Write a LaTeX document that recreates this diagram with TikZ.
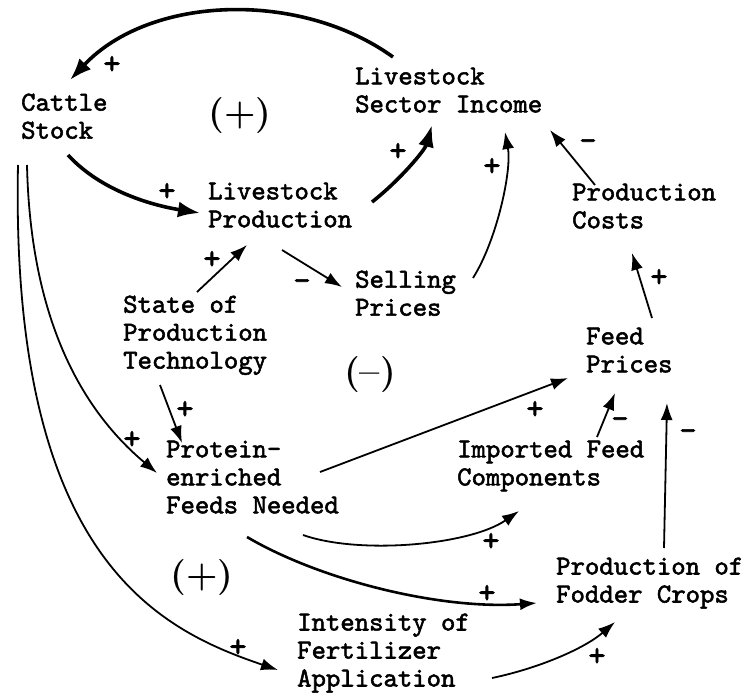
\documentclass[tikz,border=0pt]{standalone}
\usepackage{fontspec}
\newfontfamily\diagfont{lmmono10-regular}[Extension=.otf,FakeBold=2]
\usetikzlibrary{calc,arrows.meta}

\begin{document}
\begin{tikzpicture}[x=1pt,y=-1pt,
  factor/.style={anchor=north west,inner sep=0pt,align=left,font=\fontsize{27.4}{28}\diagfont,execute at begin node=\strut},
  polmark/.style={inner sep=0pt,font=\fontsize{33}{33}\diagfont},
  loopmark/.style={inner sep=0pt,font=\fontsize{36}{36}\bfseries},
  causal/.style={line width=1.8pt,-{Latex[length=17pt,width=12pt]}},
  strong causal/.style={line width=3.6pt,-{Latex[length=22pt,width=16pt]}}]

\useasboundingbox (0,0) rectangle (746,696);

\node[factor] (cattle) at (21,93.4) {Cattle\\Stock};
\node[factor] (income) at (355,67.4) {Livestock\\Sector Income};
\node[factor] (prod) at (208,182.4) {Livestock\\Production};
\node[factor] (costs) at (572,183.4) {Production\\Costs};
\node[factor] (selling) at (355,270.4) {Selling\\Prices};
\node[factor] (tech) at (123,295.4) {State of\\Production\\Technology};
\node[factor] (feed) at (586,327.4) {Feed\\Prices};
\node[factor] (protein) at (166,440.4) {Protein-\\enriched\\Feeds Needed};
\node[factor] (imported) at (457,440.4) {Imported Feed\\Components};
\node[factor] (fodder) at (556,557.4) {Production of\\Fodder Crops};
\node[factor] (intensity) at (297,613.4) {Intensity of\\Fertilizer\\Application};

\node[loopmark] (loopA) at (240,116) {(+)};
\node[loopmark] (loopB) at (370,375) {(–)};
\node[loopmark] (loopC) at (202,578) {(+)};

\draw[strong causal] ($(income.north west)+(38,-10.4)$) .. controls (300,-10) and (150,-5) .. ($(cattle.north west)+(49,-13.4)$);
\draw[strong causal] ($(cattle.north west)+(47,61.6)$) .. controls (100,190) and (150,205) .. ($(prod.north west)+(-8,30.6)$);
\draw[strong causal] ($(prod.north west)+(164,19.6)$) .. controls (400,180) and (425,150) .. ($(income.north west)+(77,57.6)$);
\draw[causal] ($(selling.north west)+(118,7.6)$) .. controls (497,240) and (512,170) .. ($(income.north west)+(150,64.6)$);
\draw[causal] ($(cattle.north west)+(6,71.6)$) .. controls (30,300) and (70,400) .. ($(protein.north west)+(-9,32.6)$);
\draw[causal] ($(cattle.north west)+(-3,71.6)$) .. controls (10,560) and (160,630) .. ($(intensity.north west)+(-19,56.6)$);
\draw[causal] ($(protein.north west)+(137,94.6)$) .. controls (360,555) and (470,545) .. ($(imported.north west)+(62,70.6)$);
\draw[causal,line width=2.6pt] ($(protein.north west)+(81,96.6)$) .. controls (320,580) and (440,610) .. ($(fodder.north west)+(-19,45.6)$);
\draw[causal] ($(intensity.north west)+(195,64.6)$) .. controls (540,668) and (585,648) .. ($(fodder.north west)+(59,64.6)$);

\foreach \a/\ax/\ay/\b/\bx/\by in {costs/23/1.6/income/195/62.6, prod/74/67.6/selling/-13/16.6,
  tech/74/-3.4/prod/39/62.6, tech/37/89.6/protein/16/2.6, protein/154/31.6/feed/-18/50.6,
  fodder/108/-9.4/feed/81/75.6, imported/140/-3.4/feed/29/65.6, feed/66/-9.4/costs/60/69.6} {
    \draw[causal] ($(\a.north west)+(\ax,\ay)$) -- ($(\b.north west)+(\bx,\by)$);
}

\foreach \x/\y/\s [count=\k] in {112/65/+, 167/192/+, 398/152/+, 492/167/+, 588/145/–,
  212/260/+, 302/285/–, 659/278/+, 185/410/+, 132/440/+, 535/410/+, 620/423/–,
  688/435/–, 491/542/+, 487/594/+, 238/648/+, 597/657/+} {
    \node[polmark] (sign\k) at (\x,\y) {\s};
}
\end{tikzpicture}
\end{document}
